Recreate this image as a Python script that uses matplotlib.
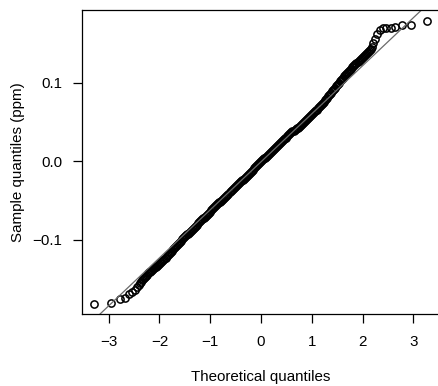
"""Normal Q-Q plot of residuals (ppm)."""

import matplotlib

matplotlib.use("Agg")
import matplotlib.pyplot as plt  # noqa: E402

# lower tail points (theoretical, sample)
lo_theo = [-3.29, -2.95, -2.78, -2.67, -2.59, -2.53, -2.48, -2.44]
lo_samp = [-0.182, -0.181, -0.176, -0.174, -0.170, -0.167, -0.164, -0.161]

# dense middle part, read along the band
mid_theo = [
    -2.40, -2.38, -2.36, -2.34, -2.32, -2.30, -2.28, -2.26, -2.24, -2.22,
    -2.20, -2.18, -2.16, -2.14, -2.12, -2.10, -2.08, -2.06, -2.04, -2.02,
    -2.00, -1.98, -1.96, -1.94, -1.92, -1.90, -1.88, -1.86, -1.84, -1.82,
    -1.80, -1.78, -1.76, -1.74, -1.72, -1.70, -1.68, -1.66, -1.64, -1.62,
    -1.60, -1.58, -1.56, -1.54, -1.52, -1.50, -1.48, -1.46, -1.44, -1.42,
    -1.40, -1.38, -1.36, -1.34, -1.32, -1.30, -1.28, -1.26, -1.24, -1.22,
    -1.20, -1.18, -1.16, -1.14, -1.12, -1.10, -1.08, -1.06, -1.04, -1.02,
    -1.00, -0.98, -0.96, -0.94, -0.92, -0.90, -0.88, -0.86, -0.84, -0.82,
    -0.80, -0.78, -0.76, -0.74, -0.72, -0.70, -0.68, -0.66, -0.64, -0.62,
    -0.60, -0.58, -0.56, -0.54, -0.52, -0.50, -0.48, -0.46, -0.44, -0.42,
    -0.40, -0.38, -0.36, -0.34, -0.32, -0.30, -0.28, -0.26, -0.24, -0.22,
    -0.20, -0.18, -0.16, -0.14, -0.12, -0.10, -0.08, -0.06, -0.04, -0.02,
    0.00, 0.02, 0.04, 0.06, 0.08, 0.10, 0.12, 0.14, 0.16, 0.18,
    0.20, 0.22, 0.24, 0.26, 0.28, 0.30, 0.32, 0.34, 0.36, 0.38,
    0.40, 0.42, 0.44, 0.46, 0.48, 0.50, 0.52, 0.54, 0.56, 0.58,
    0.60, 0.62, 0.64, 0.66, 0.68, 0.70, 0.72, 0.74, 0.76, 0.78,
    0.80, 0.82, 0.84, 0.86, 0.88, 0.90, 0.92, 0.94, 0.96, 0.98,
    1.00, 1.02, 1.04, 1.06, 1.08, 1.10, 1.12, 1.14, 1.16, 1.18,
    1.20, 1.22, 1.24, 1.26, 1.28, 1.30, 1.32, 1.34, 1.36, 1.38,
    1.40, 1.42, 1.44, 1.46, 1.48, 1.50, 1.52, 1.54, 1.56, 1.58,
    1.60, 1.62, 1.64, 1.66, 1.68, 1.70, 1.72, 1.74, 1.76, 1.78,
    1.80, 1.82, 1.84, 1.86, 1.88, 1.90, 1.92, 1.94, 1.96, 1.98,
    2.00, 2.02, 2.04, 2.06, 2.08, 2.10, 2.12, 2.14, 2.16,
]
mid_samp = [
    -0.1575, -0.1557, -0.1540, -0.1522, -0.1505, -0.1488, -0.1474, -0.1460, -0.1447, -0.1433,
    -0.1419, -0.1409, -0.1398, -0.1387, -0.1376, -0.1365, -0.1354, -0.1344, -0.1333, -0.1322,
    -0.1311, -0.1298, -0.1285, -0.1272, -0.1259, -0.1246, -0.1231, -0.1216, -0.1201, -0.1186,
    -0.1172, -0.1157, -0.1142, -0.1127, -0.1112, -0.1097, -0.1083, -0.1069, -0.1055, -0.1040,
    -0.1026, -0.1013, -0.0999, -0.0985, -0.0972, -0.0958, -0.0947, -0.0936, -0.0926, -0.0915,
    -0.0904, -0.0891, -0.0878, -0.0865, -0.0852, -0.0839, -0.0824, -0.0809, -0.0794, -0.0779,
    -0.0764, -0.0754, -0.0743, -0.0732, -0.0721, -0.0710, -0.0697, -0.0684, -0.0671, -0.0658,
    -0.0645, -0.0630, -0.0615, -0.0601, -0.0586, -0.0571, -0.0560, -0.0549, -0.0538, -0.0527,
    -0.0517, -0.0504, -0.0492, -0.0480, -0.0468, -0.0455, -0.0442, -0.0428, -0.0415, -0.0401,
    -0.0387, -0.0374, -0.0360, -0.0346, -0.0333, -0.0319, -0.0307, -0.0295, -0.0282, -0.0270,
    -0.0258, -0.0247, -0.0236, -0.0225, -0.0214, -0.0204, -0.0190, -0.0176, -0.0163, -0.0149,
    -0.0135, -0.0122, -0.0109, -0.0095, -0.0082, -0.0068, -0.0055, -0.0041, -0.0027, -0.0014,
    0.0000, 0.0011, 0.0022, 0.0033, 0.0043, 0.0054, 0.0066, 0.0079, 0.0091, 0.0103,
    0.0115, 0.0129, 0.0143, 0.0156, 0.0170, 0.0184, 0.0194, 0.0205, 0.0216, 0.0227,
    0.0238, 0.0250, 0.0262, 0.0275, 0.0287, 0.0299, 0.0313, 0.0326, 0.0340, 0.0354,
    0.0367, 0.0377, 0.0387, 0.0396, 0.0406, 0.0415, 0.0427, 0.0438, 0.0450, 0.0461,
    0.0473, 0.0486, 0.0500, 0.0514, 0.0527, 0.0541, 0.0552, 0.0562, 0.0573, 0.0584,
    0.0595, 0.0607, 0.0620, 0.0632, 0.0644, 0.0656, 0.0670, 0.0683, 0.0697, 0.0711,
    0.0724, 0.0741, 0.0757, 0.0773, 0.0789, 0.0806, 0.0822, 0.0838, 0.0854, 0.0871,
    0.0887, 0.0903, 0.0919, 0.0936, 0.0952, 0.0968, 0.0984, 0.1000, 0.1017, 0.1033,
    0.1049, 0.1064, 0.1079, 0.1094, 0.1109, 0.1123, 0.1137, 0.1151, 0.1164, 0.1178,
    0.1192, 0.1205, 0.1219, 0.1233, 0.1246, 0.1260, 0.1273, 0.1286, 0.1298, 0.1311,
    0.1324, 0.1336, 0.1349, 0.1361, 0.1373, 0.1385, 0.1401, 0.1416, 0.1432,
]

# upper tail points
hi_theo = [2.19, 2.21, 2.24, 2.28, 2.34, 2.41, 2.47, 2.55, 2.64, 2.78, 2.95, 3.26]
hi_samp = [0.145, 0.150, 0.156, 0.162, 0.167, 0.169, 0.170, 0.170, 0.171, 0.173, 0.173, 0.178]

# reference line (qqline)
line_intercept = -0.001
line_slope = 0.0612

x_ticks = [-3, -2, -1, 0, 1, 2, 3]
x_labels = ["\u22123", "\u22122", "\u22121", "0", "1", "2", "3"]
y_ticks = [-0.1, 0.0, 0.1]
y_labels = ["\u22120.1", "0.0", "0.1"]

plt.rcParams["font.family"] = ["Liberation Sans", "DejaVu Sans"]
plt.rcParams["font.size"] = 10.9

fig = plt.figure(figsize=(4.38, 3.86), dpi=100)
ax = fig.add_axes([82 / 438, 1 - 314 / 386, 358 / 438, 304 / 386])

theo = lo_theo + mid_theo + hi_theo
samp = lo_samp + mid_samp + hi_samp
ax.plot(theo, samp, linestyle="none", marker="o", ms=5.2, mfc="none",
        mec="black", mew=1.1)
ax.axline((0, line_intercept), slope=line_slope, color="#6a6a6a", lw=0.9)

ax.set_xlim(-3.524, 3.524)
ax.set_ylim(-0.1949, 0.1924)
ax.set_xticks(x_ticks, x_labels)
ax.set_yticks(y_ticks, y_labels)
ax.tick_params(direction="out", length=6.5, width=0.9, color="black")
ax.tick_params(axis="x", pad=8.3)
ax.tick_params(axis="y", pad=7.9)
for s in ax.spines.values():
    s.set_linewidth(0.9)

ax.set_xlabel("Theoretical quantiles")
ax.xaxis.set_label_coords(0.5, -0.184)
ax.set_ylabel("Sample quantiles (ppm)")
ax.yaxis.set_label_coords(-0.180, 0.5)
ax.yaxis.label.set_verticalalignment("center")

fig.savefig("out.png", dpi=100)
